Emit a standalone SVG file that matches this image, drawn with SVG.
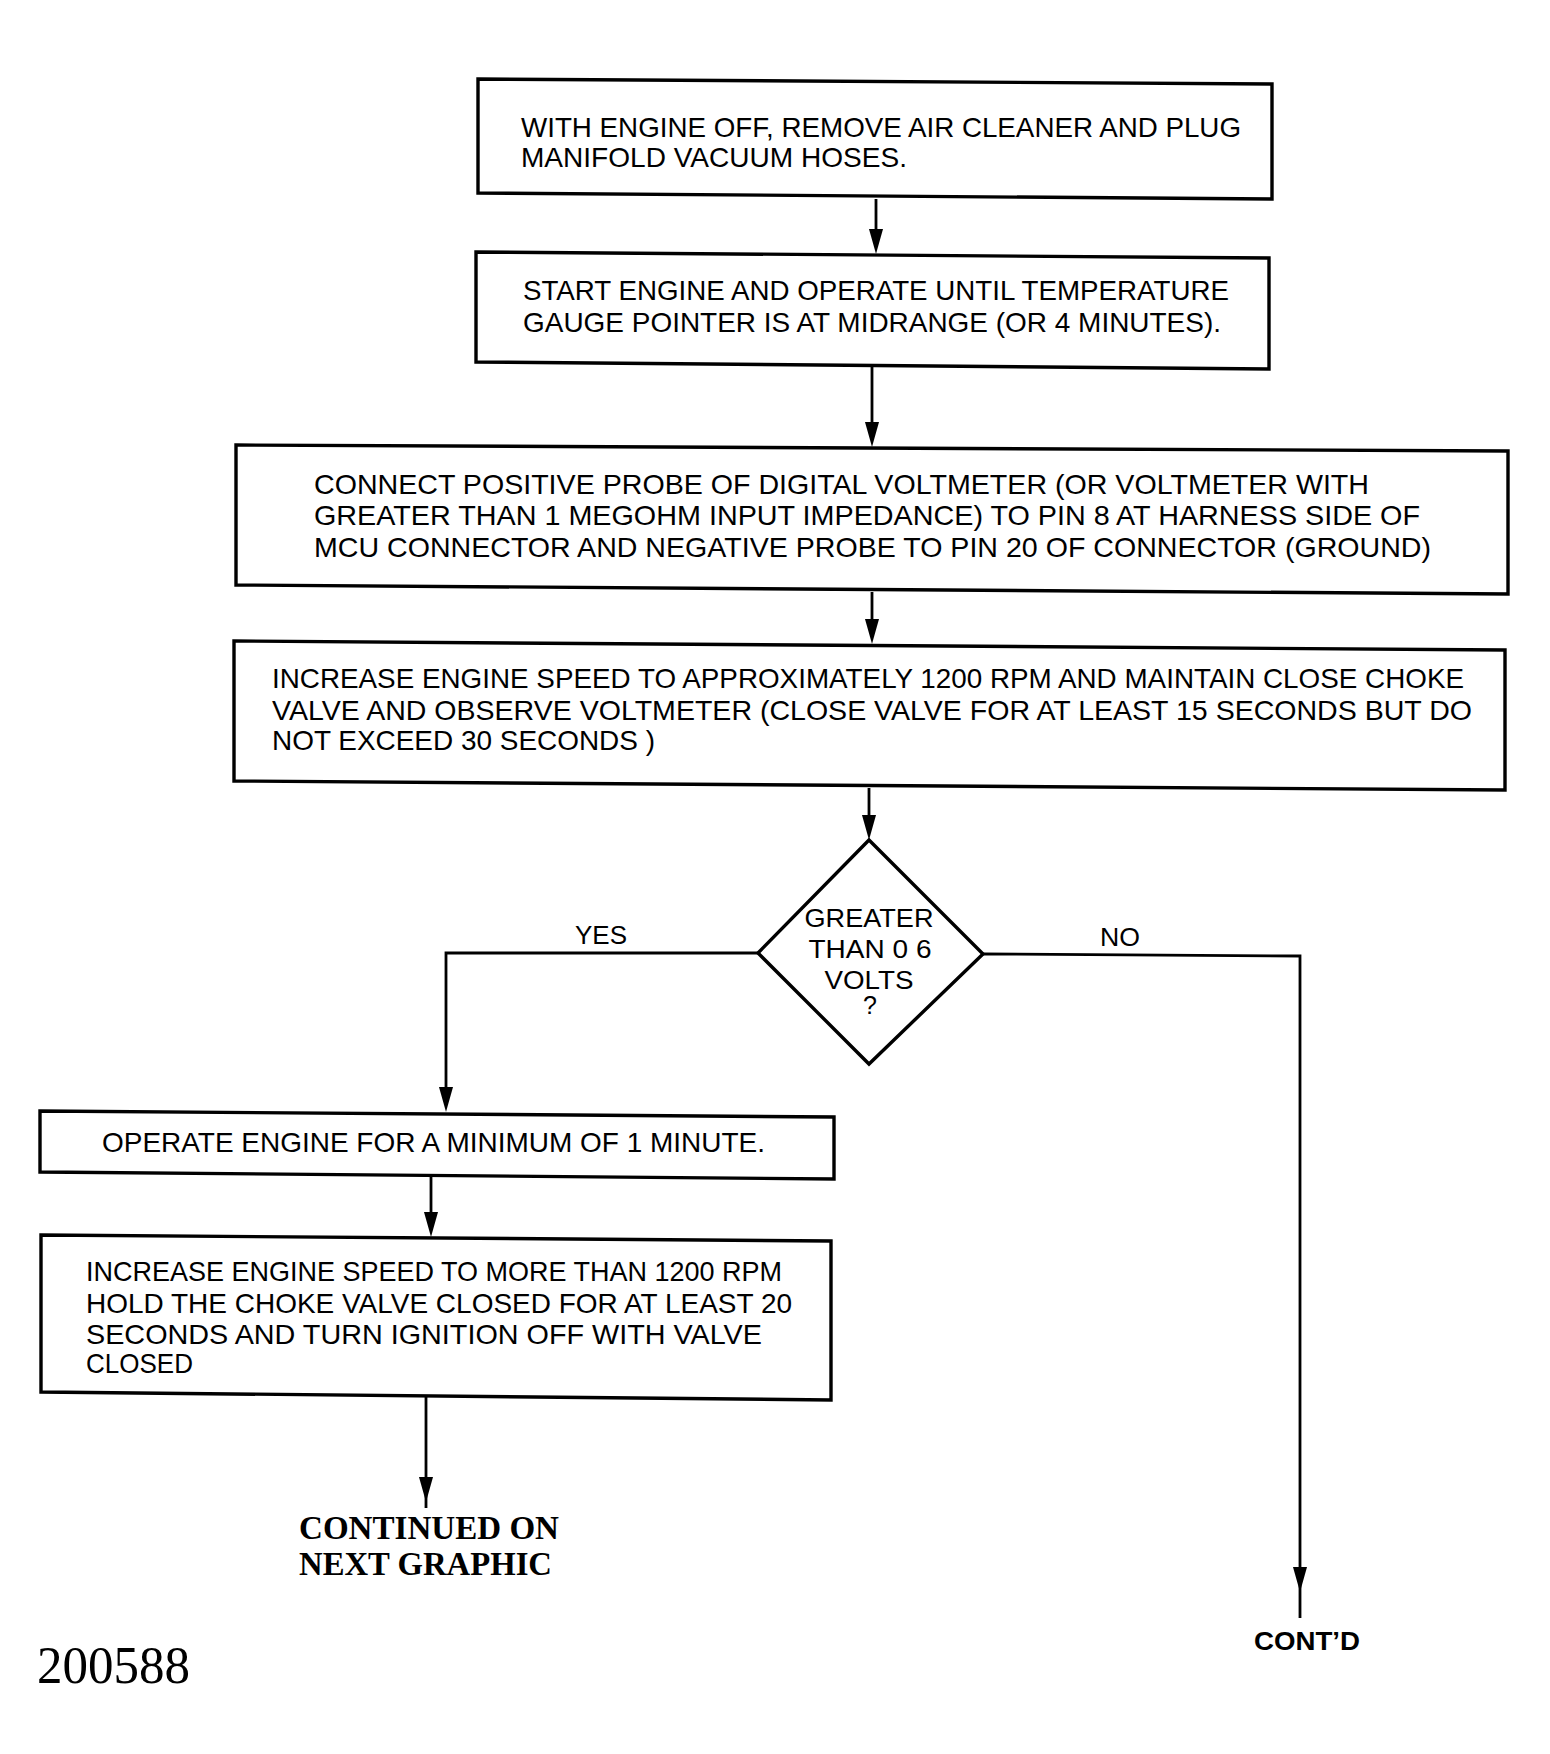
<svg xmlns="http://www.w3.org/2000/svg" width="1550" height="1754" viewBox="0 0 1550 1754">
<defs>
<style>
.box{fill:#fff;stroke:#000;stroke-width:3.4;stroke-linejoin:miter}
.ln{fill:none;stroke:#000;stroke-width:2.8}
.t{font-family:"Liberation Sans",Arial,sans-serif;font-size:28px;fill:#000}
.d{font-family:"Liberation Sans",Arial,sans-serif;font-size:25px;fill:#000}
.c{font-family:"Liberation Sans",Arial,sans-serif;font-size:26px;font-weight:bold;fill:#000}
.s{font-family:"Liberation Serif","Times New Roman",serif;font-weight:bold;font-size:33px;fill:#000}
.n{font-family:"Liberation Serif","Times New Roman",serif;font-size:52px;fill:#000}
.ah{fill:#000}
</style>
</defs>
<rect width="1550" height="1754" fill="#fff"/>
<g id="connectors">
<path class="ln" d="M876,199 L876,232"/><path class="ah" d="M869,229 L883,229 L876,254 Z"/>
<path class="ln" d="M872,366 L872,425"/><path class="ah" d="M865,422 L879,422 L872,447 Z"/>
<path class="ln" d="M872,592 L872,622"/><path class="ah" d="M865,619 L879,619 L872,644 Z"/>
<path class="ln" d="M869,788 L869,818"/><path class="ah" d="M862,815 L876,815 L869,840 Z"/>
<path class="ln" d="M758,953 L446,953 L446,1090"/><path class="ah" d="M439,1087 L453,1087 L446,1112 Z"/>
<path class="ln" d="M431,1175 L431,1215"/><path class="ah" d="M424,1212 L438,1212 L431,1237 Z"/>
<path class="ln" d="M426,1397 L426,1508"/><path class="ah" d="M419,1477 L433,1477 L426,1502 Z"/>
<path class="ln" d="M983,954 L1300,956 L1300,1618"/><path class="ah" d="M1293,1567 L1307,1567 L1300,1592 Z"/>
<text class="d" x="575" y="944" textLength="52" lengthAdjust="spacingAndGlyphs">YES</text>
<text class="d" x="1100" y="946" textLength="40" lengthAdjust="spacingAndGlyphs">NO</text>
</g>
<g id="n1">
<polygon class="box" points="478,79 1272,84 1272,199 478,193"/>
<text class="t" x="521" y="137" textLength="720" lengthAdjust="spacingAndGlyphs">WITH ENGINE OFF, REMOVE AIR CLEANER AND PLUG</text>
<text class="t" x="521" y="167" textLength="386" lengthAdjust="spacingAndGlyphs">MANIFOLD VACUUM HOSES.</text>
</g>
<g id="n2">
<polygon class="box" points="476,252 1269,258 1269,369 476,362"/>
<text class="t" x="523" y="300" textLength="706" lengthAdjust="spacingAndGlyphs">START ENGINE AND OPERATE UNTIL TEMPERATURE</text>
<text class="t" x="523" y="332" textLength="698" lengthAdjust="spacingAndGlyphs">GAUGE POINTER IS AT MIDRANGE (OR 4 MINUTES).</text>
</g>
<g id="n3">
<polygon class="box" points="236,445 1508,451 1508,594 236,585"/>
<text class="t" x="314" y="494" textLength="1055" lengthAdjust="spacingAndGlyphs">CONNECT POSITIVE PROBE OF DIGITAL VOLTMETER (OR VOLTMETER WITH</text>
<text class="t" x="314" y="525" textLength="1106" lengthAdjust="spacingAndGlyphs">GREATER THAN 1 MEGOHM INPUT IMPEDANCE) TO PIN 8 AT HARNESS SIDE OF</text>
<text class="t" x="314" y="557" textLength="1117" lengthAdjust="spacingAndGlyphs">MCU CONNECTOR AND NEGATIVE PROBE TO PIN 20 OF CONNECTOR (GROUND)</text>
</g>
<g id="n4">
<polygon class="box" points="234,641 1505,650 1505,790 234,781"/>
<text class="t" x="272" y="688" textLength="1192" lengthAdjust="spacingAndGlyphs">INCREASE ENGINE SPEED TO APPROXIMATELY 1200 RPM AND MAINTAIN  CLOSE CHOKE</text>
<text class="t" x="272" y="720" textLength="1200" lengthAdjust="spacingAndGlyphs">VALVE AND OBSERVE VOLTMETER  (CLOSE VALVE FOR AT LEAST 15 SECONDS BUT DO</text>
<text class="t" x="272" y="750" textLength="383" lengthAdjust="spacingAndGlyphs">NOT EXCEED 30 SECONDS )</text>
</g>
<g id="n5">
<polygon class="box" points="869,840 983,954 869,1064 758,953"/>
<text class="d" x="869" y="927" text-anchor="middle" textLength="129" lengthAdjust="spacingAndGlyphs">GREATER</text>
<text class="d" x="870" y="958" text-anchor="middle" textLength="123" lengthAdjust="spacingAndGlyphs">THAN 0 6</text>
<text class="d" x="869" y="989" text-anchor="middle" textLength="89" lengthAdjust="spacingAndGlyphs">VOLTS</text>
<text class="d" x="870" y="1014" text-anchor="middle" font-size="16">?</text>
</g>
<g id="n6">
<polygon class="box" points="40,1111 834,1117 834,1179 40,1172"/>
<text class="t" x="102" y="1152" textLength="663" lengthAdjust="spacingAndGlyphs">OPERATE ENGINE FOR A MINIMUM OF 1 MINUTE.</text>
</g>
<g id="n7">
<polygon class="box" points="41,1235 831,1241 831,1400 41,1392"/>
<text class="t" x="86" y="1281" textLength="696" lengthAdjust="spacingAndGlyphs">INCREASE ENGINE SPEED TO MORE THAN 1200 RPM</text>
<text class="t" x="86" y="1313" textLength="706" lengthAdjust="spacingAndGlyphs">HOLD THE CHOKE VALVE CLOSED FOR AT LEAST 20</text>
<text class="t" x="86" y="1344" textLength="676" lengthAdjust="spacingAndGlyphs">SECONDS AND TURN IGNITION OFF WITH VALVE</text>
<text class="t" x="86" y="1373" textLength="107" lengthAdjust="spacingAndGlyphs">CLOSED</text>
</g>
<g id="n8">
<text class="s" x="299" y="1539" textLength="260" lengthAdjust="spacingAndGlyphs">CONTINUED ON</text>
<text class="s" x="299" y="1575" textLength="253" lengthAdjust="spacingAndGlyphs">NEXT GRAPHIC</text>
</g>
<g id="n9">
<text class="c" x="1254" y="1650" textLength="106" lengthAdjust="spacingAndGlyphs">CONT’D</text>
</g>
<g id="n10">
<text class="n" x="37" y="1683" textLength="153" lengthAdjust="spacingAndGlyphs">200588</text>
</g>
</svg>
